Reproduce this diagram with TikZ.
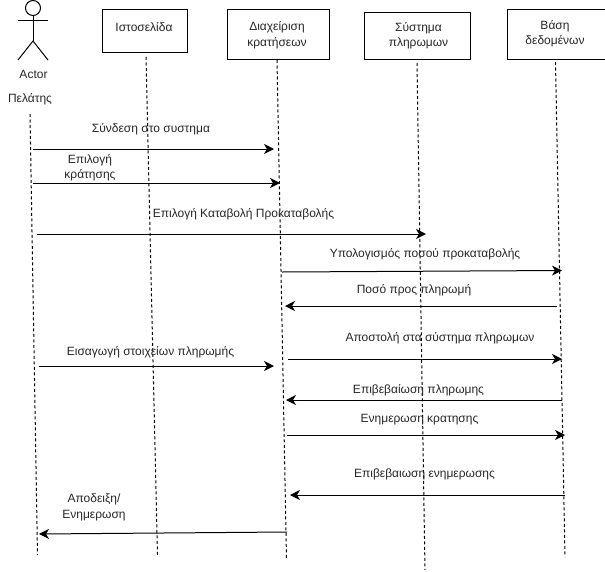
\documentclass[tikz,border=0pt]{standalone}
\usepackage{fontspec}
\setmainfont{Liberation Sans}
\usetikzlibrary{arrows.meta}
\tikzset{
  box/.style={draw=black,line width=1pt,fill=white,inner sep=0pt,align=center},
  lifeline/.style={draw=black,line width=1pt,dash pattern=on 3pt off 2.5pt},
  msg/.style={draw=black,line width=1pt,-{Stealth[length=10pt,width=10pt,inset=3pt]}},
  lbl/.style={font=\fontsize{12}{15.5}\selectfont,text=black!85,align=center,inner sep=0pt},
  stick/.style={draw=black,line width=1pt}
}
\begin{document}
\begin{tikzpicture}[x=1pt,y=-1pt]
\useasboundingbox (0,0) rectangle (605,571);
% lifeline ends
\coordinate (a0) at (30,114); \coordinate (a1) at (37.5,555);
\coordinate (w0) at (146,57); \coordinate (w1) at (157.5,556);
\coordinate (d0) at (277,60); \coordinate (d1) at (286.5,559);
\coordinate (p0) at (417,63); \coordinate (p1) at (425,570);
\coordinate (b0) at (555.5,62); \coordinate (b1) at (565,557);
\foreach \s/\e in {a0/a1,w0/w1,d0/d1,p0/p1,b0/b1} \draw[lifeline] (\s) -- (\e);
% boxes
\node[box,minimum width=85pt,minimum height=43.5pt,anchor=north west] (web) at (101.5,8.5) {};
\node[lbl] (webt) at (144,27) {Ιστοσελίδα};
\node[box,minimum width=102pt,minimum height=50pt,anchor=north west] (dm) at (226.5,8.5) {};
\node[lbl] (dmt) at (277,35) {Διαχείριση\\κρατήσεων};
\node[box,minimum width=106pt,minimum height=47pt,anchor=north west] (pay) at (363.5,11.5) {};
\node[lbl] (payt) at (418.5,35.5) {Σύστημα\\πληρωμων};
\node[box,minimum width=98pt,minimum height=50pt,anchor=north west] (db) at (506.5,8.5) {};
\node[lbl] (dbt) at (555,33.5) {Βάση\\δεδομένων};
% actor
\node[draw=black,line width=1pt,circle,minimum size=15pt,inner sep=0pt] (head) at (33,8) {};
\coordinate (hip) at (33,41); \coordinate (armL) at (18,20); \coordinate (armR) at (48,20);
\coordinate (legL) at (18,60); \coordinate (legR) at (48,60);
\draw[stick] (head.south) -- (hip);
\draw[stick] (armL) -- (armR);
\draw[stick] (legL) -- (hip) -- (legR);
\node[lbl] (actor) at (33.5,74) {Actor};
\node[lbl] (cust) at (30,99.5) {Πελάτης};
% message ends
\coordinate (m1s) at (33,149); \coordinate (m1e) at (274,149);
\coordinate (m2s) at (33,183); \coordinate (m2e) at (280,183);
\coordinate (m3s) at (37,234); \coordinate (m3e) at (426,234);
\coordinate (m4s) at (282,272); \coordinate (m4e) at (562,270.5);
\coordinate (m5s) at (557,306); \coordinate (m5e) at (285,306);
\coordinate (m6s) at (288,359); \coordinate (m6e) at (562,359);
\coordinate (m7s) at (39,366); \coordinate (m7e) at (274,366);
\coordinate (m8s) at (562,400); \coordinate (m8e) at (286,400);
\coordinate (m9s) at (287,435); \coordinate (m9e) at (565,435);
\coordinate (m10s) at (565,495); \coordinate (m10e) at (290,495);
\coordinate (m11s) at (287,532); \coordinate (m11e) at (39,534);
\foreach \i in {1,...,11} \draw[msg] (m\i s) -- (m\i e);
% labels
\node[lbl] (l1) at (151,129.5) {Σύνδεση στο συστημα};
\node[lbl] (l2) at (90,167.5) {Επιλογή\\κράτησης};
\node[lbl] (l3) at (243.5,214.5) {Επιλογή Καταβολή Προκαταβολής};
\node[lbl] (l4) at (425,254) {Υπολογισμός ποσού προκαταβολής};
\node[lbl] (l5) at (414,290) {Ποσό προς πληρωμή};
\node[lbl] (l6) at (440,338) {Αποστολή στα σύστημα πληρωμων};
\node[lbl] (l7) at (150.5,352) {Εισαγωγή στοιχείων πληρωμής};
\node[lbl] (l8) at (418.5,390) {Επιβεβαίωση πληρωμης};
\node[lbl] (l9) at (419.5,420) {Ενημερωση κρατησης};
\node[lbl] (l10) at (424.5,474) {Επιβεβαιωση ενημερωσης};
\node[lbl] (l11) at (94,507.5) {Αποδειξη/\\Ενημερωση};
\end{tikzpicture}
\end{document}
